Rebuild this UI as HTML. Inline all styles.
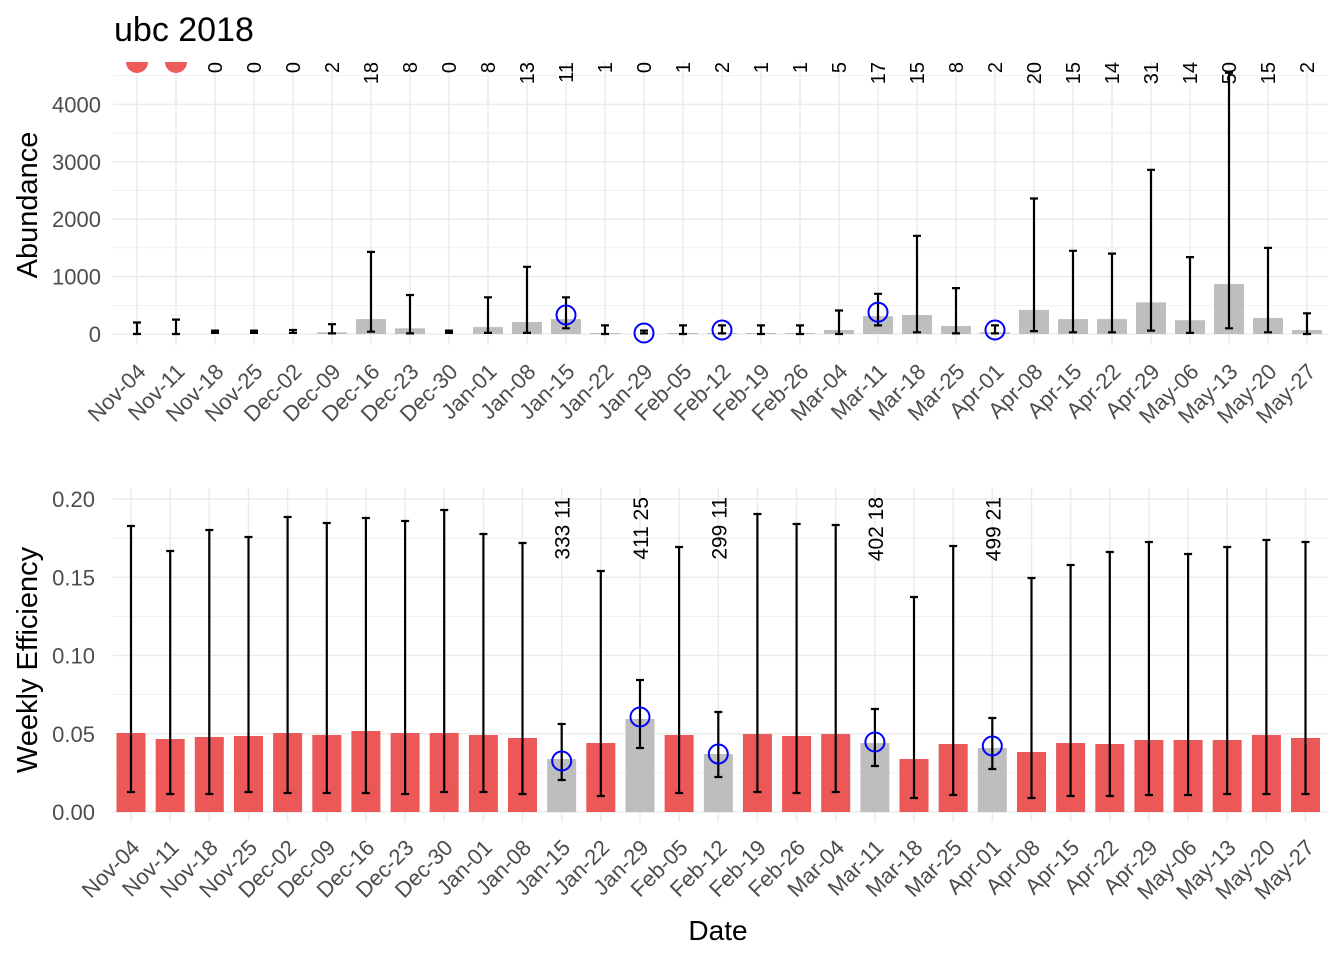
<!DOCTYPE html>
<html><head><meta charset="utf-8"><style>body{margin:0;background:#fff}svg{display:block}text{font-family:"Liberation Sans",sans-serif}</style></head><body>
<svg width="1344" height="960" viewBox="0 0 1344 960" xmlns="http://www.w3.org/2000/svg">
<text x="114" y="41" font-size="34" fill="#000">ubc 2018</text>
<g stroke="#ebebeb" fill="none">
<g stroke-width="0.7"><path d="M113 305.3H1328M113 247.9H1328M113 190.5H1328M113 133.1H1328M113 75.7H1328"/></g>
<g stroke-width="1.5"><path d="M113 334H1328M113 276.6H1328M113 219.2H1328M113 161.8H1328M113 104.4H1328"/>
<path d="M137 62V345M176 62V345M215 62V345M254 62V345M293 62V345M332 62V345M371 62V345M410 62V345M449 62V345M488 62V345M527 62V345M566 62V345M605 62V345M644 62V345M683 62V345M722 62V345M761 62V345M800 62V345M839 62V345M878 62V345M917 62V345M956 62V345M995 62V345M1034 62V345M1073 62V345M1112 62V345M1151 62V345M1190 62V345M1229 62V345M1268 62V345M1307 62V345"/></g>
</g>
<g font-size="22" fill="#4d4d4d" text-anchor="end">
<text x="101" y="342">0</text><text x="101" y="284.6">1000</text><text x="101" y="227.2">2000</text><text x="101" y="169.8">3000</text><text x="101" y="112.4">4000</text>
</g>
<text transform="translate(37,205) rotate(-90)" font-size="29" text-anchor="middle">Abundance</text>
<g fill="#bebebe">
<rect x="317" y="332.3" width="30" height="1.7"/><rect x="356" y="319.1" width="30" height="14.9"/><rect x="395" y="328.3" width="30" height="5.7"/>
<rect x="473" y="327.1" width="30" height="6.9"/><rect x="512" y="322" width="30" height="12"/><rect x="551" y="319.1" width="30" height="14.9"/>
<rect x="590" y="333" width="30" height="1"/><rect x="668" y="333" width="30" height="1"/><rect x="707" y="333" width="30" height="1"/><rect x="746" y="333" width="30" height="1"/><rect x="785" y="333" width="30" height="1"/>
<rect x="824" y="330" width="30" height="4"/><rect x="863" y="316.2" width="30" height="17.8"/><rect x="902" y="315" width="30" height="19"/><rect x="941" y="326" width="30" height="8"/><rect x="980" y="332.3" width="30" height="1.7"/>
<rect x="1019" y="309.9" width="30" height="24.1"/><rect x="1058" y="319.1" width="30" height="14.9"/><rect x="1097" y="319.1" width="30" height="14.9"/><rect x="1136" y="302.4" width="30" height="31.6"/><rect x="1175" y="320.2" width="30" height="13.8"/><rect x="1214" y="284.1" width="30" height="49.9"/><rect x="1253" y="317.9" width="30" height="16.1"/><rect x="1292" y="330" width="30" height="4"/>
</g>
<g stroke="#000" stroke-width="2.2" fill="none">
<path d="M133 322.5H141M137 322.5V334M133 334H141"/>
<path d="M172 319.6H180M176 319.6V334M172 334H180"/>
<path d="M211 330.6H219M215 330.6V332.9M211 332.9H219"/>
<path d="M250 330.6H258M254 330.6V332.9M250 332.9H258"/>
<path d="M289 330H297M293 330V332.9M289 332.9H297"/>
<path d="M328 324.2H336M332 324.2V333.4M328 333.4H336"/>
<path d="M367 251.9H375M371 251.9V331.7M367 331.7H375"/>
<path d="M406 295H414M410 295V333.4M406 333.4H414"/>
<path d="M445 330.6H453M449 330.6V332.9M445 332.9H453"/>
<path d="M484 297.3H492M488 297.3V332.9M484 332.9H492"/>
<path d="M523 266.8H531M527 266.8V332.9M523 332.9H531"/>
<path d="M562 297.3H570M566 297.3V328.3M562 328.3H570"/>
<path d="M601 325.4H609M605 325.4V334M601 334H609"/>
<path d="M640 330.6H648M644 330.6V333.4M640 333.4H648"/>
<path d="M679 325.4H687M683 325.4V334M679 334H687"/>
<path d="M718 325.4H726M722 325.4V333.4M718 333.4H726"/>
<path d="M757 325.4H765M761 325.4V334M757 334H765"/>
<path d="M796 325.4H804M800 325.4V334M796 334H804"/>
<path d="M835 310.5H843M839 310.5V334M835 334H843"/>
<path d="M874 293.8H882M878 293.8V325.4M874 325.4H882"/>
<path d="M913 235.8H921M917 235.8V332.3M913 332.3H921"/>
<path d="M952 288.1H960M956 288.1V333.4M952 333.4H960"/>
<path d="M991 325.4H999M995 325.4V333.4M991 333.4H999"/>
<path d="M1030 198.5H1038M1034 198.5V331.1M1030 331.1H1038"/>
<path d="M1069 250.8H1077M1073 250.8V332.3M1069 332.3H1077"/>
<path d="M1108 253.6H1116M1112 253.6V332.3M1108 332.3H1116"/>
<path d="M1147 169.8H1155M1151 169.8V330.6M1147 330.6H1155"/>
<path d="M1186 257.1H1194M1190 257.1V332.9M1186 332.9H1194"/>
<path d="M1225 72.8H1233M1229 72.8V328.3M1225 328.3H1233"/>
<path d="M1264 247.9H1272M1268 247.9V332.3M1264 332.3H1272"/>
<path d="M1303 313.3H1311M1307 313.3V334M1303 334H1311"/>
</g>
<g stroke="#0000ff" stroke-width="2" fill="none">
<circle cx="566" cy="315" r="9.5"/><circle cx="644" cy="333" r="9.5"/><circle cx="722" cy="330" r="9.5"/><circle cx="878" cy="312.2" r="9.5"/><circle cx="995" cy="330" r="9.5"/>
</g>
<path d="M126 62A11 11 0 0 0 148 62Z M165 62A11 11 0 0 0 187 62Z" fill="#ef5a5a"/>
<g font-size="20" fill="#000" text-anchor="end">
<text transform="translate(222,62) rotate(-90)">0</text>
<text transform="translate(261,62) rotate(-90)">0</text>
<text transform="translate(300,62) rotate(-90)">0</text>
<text transform="translate(339,62) rotate(-90)">2</text>
<text transform="translate(378,62) rotate(-90)">18</text>
<text transform="translate(417,62) rotate(-90)">8</text>
<text transform="translate(456,62) rotate(-90)">0</text>
<text transform="translate(495,62) rotate(-90)">8</text>
<text transform="translate(534,62) rotate(-90)">13</text>
<text transform="translate(573,62) rotate(-90)">11</text>
<text transform="translate(612,62) rotate(-90)">1</text>
<text transform="translate(651,62) rotate(-90)">0</text>
<text transform="translate(690,62) rotate(-90)">1</text>
<text transform="translate(729,62) rotate(-90)">2</text>
<text transform="translate(768,62) rotate(-90)">1</text>
<text transform="translate(807,62) rotate(-90)">1</text>
<text transform="translate(846,62) rotate(-90)">5</text>
<text transform="translate(885,62) rotate(-90)">17</text>
<text transform="translate(924,62) rotate(-90)">15</text>
<text transform="translate(963,62) rotate(-90)">8</text>
<text transform="translate(1002,62) rotate(-90)">2</text>
<text transform="translate(1041,62) rotate(-90)">20</text>
<text transform="translate(1080,62) rotate(-90)">15</text>
<text transform="translate(1119,62) rotate(-90)">14</text>
<text transform="translate(1158,62) rotate(-90)">31</text>
<text transform="translate(1197,62) rotate(-90)">14</text>
<text transform="translate(1236,62) rotate(-90)">50</text>
<text transform="translate(1275,62) rotate(-90)">15</text>
<text transform="translate(1314,62) rotate(-90)">2</text>
</g>
<g font-size="22" fill="#4d4d4d" text-anchor="end">
<text transform="translate(147,373) rotate(-45)">Nov-04</text>
<text transform="translate(186,373) rotate(-45)">Nov-11</text>
<text transform="translate(225,373) rotate(-45)">Nov-18</text>
<text transform="translate(264,373) rotate(-45)">Nov-25</text>
<text transform="translate(303,373) rotate(-45)">Dec-02</text>
<text transform="translate(342,373) rotate(-45)">Dec-09</text>
<text transform="translate(381,373) rotate(-45)">Dec-16</text>
<text transform="translate(420,373) rotate(-45)">Dec-23</text>
<text transform="translate(459,373) rotate(-45)">Dec-30</text>
<text transform="translate(498,373) rotate(-45)">Jan-01</text>
<text transform="translate(537,373) rotate(-45)">Jan-08</text>
<text transform="translate(576,373) rotate(-45)">Jan-15</text>
<text transform="translate(615,373) rotate(-45)">Jan-22</text>
<text transform="translate(654,373) rotate(-45)">Jan-29</text>
<text transform="translate(693,373) rotate(-45)">Feb-05</text>
<text transform="translate(732,373) rotate(-45)">Feb-12</text>
<text transform="translate(771,373) rotate(-45)">Feb-19</text>
<text transform="translate(810,373) rotate(-45)">Feb-26</text>
<text transform="translate(849,373) rotate(-45)">Mar-04</text>
<text transform="translate(888,373) rotate(-45)">Mar-11</text>
<text transform="translate(927,373) rotate(-45)">Mar-18</text>
<text transform="translate(966,373) rotate(-45)">Mar-25</text>
<text transform="translate(1005,373) rotate(-45)">Apr-01</text>
<text transform="translate(1044,373) rotate(-45)">Apr-08</text>
<text transform="translate(1083,373) rotate(-45)">Apr-15</text>
<text transform="translate(1122,373) rotate(-45)">Apr-22</text>
<text transform="translate(1161,373) rotate(-45)">Apr-29</text>
<text transform="translate(1200,373) rotate(-45)">May-06</text>
<text transform="translate(1239,373) rotate(-45)">May-13</text>
<text transform="translate(1278,373) rotate(-45)">May-20</text>
<text transform="translate(1317,373) rotate(-45)">May-27</text>
</g>

<g stroke="#ebebeb" fill="none">
<g stroke-width="0.7"><path d="M113 772.9H1328M113 694.6H1328M113 616.4H1328M113 538.1H1328"/></g>
<g stroke-width="1.5"><path d="M113 812H1328M113 733.75H1328M113 655.5H1328M113 577.25H1328M113 499H1328"/>
<path d="M131 488V822M170.2 488V822M209.3 488V822M248.5 488V822M287.6 488V822M326.8 488V822M365.9 488V822M405.1 488V822M444.2 488V822M483.4 488V822M522.5 488V822M561.7 488V822M600.8 488V822M640 488V822M679.1 488V822M718.3 488V822M757.4 488V822M796.6 488V822M835.7 488V822M874.9 488V822M914 488V822M953.2 488V822M992.3 488V822M1031.5 488V822M1070.6 488V822M1109.8 488V822M1148.9 488V822M1188.1 488V822M1227.2 488V822M1266.4 488V822M1305.5 488V822"/></g>
</g>
<g font-size="22" fill="#4d4d4d" text-anchor="end">
<text x="95" y="820">0.00</text><text x="95" y="741.75">0.05</text><text x="95" y="663.5">0.10</text><text x="95" y="585.25">0.15</text><text x="95" y="507">0.20</text>
</g>
<text transform="translate(37,660) rotate(-90)" font-size="29" text-anchor="middle">Weekly Efficiency</text>
<g fill="#ec5858">
<rect x="116.5" y="733" width="29" height="79"/>
<rect x="155.7" y="739" width="29" height="73"/>
<rect x="194.8" y="737" width="29" height="75"/>
<rect x="234" y="736" width="29" height="76"/>
<rect x="273.1" y="733" width="29" height="79"/>
<rect x="312.3" y="735" width="29" height="77"/>
<rect x="351.4" y="731" width="29" height="81"/>
<rect x="390.6" y="733" width="29" height="79"/>
<rect x="429.7" y="733" width="29" height="79"/>
<rect x="468.9" y="735" width="29" height="77"/>
<rect x="508" y="738" width="29" height="74"/>
<rect x="586.3" y="743" width="29" height="69"/>
<rect x="664.6" y="735" width="29" height="77"/>
<rect x="742.9" y="734" width="29" height="78"/>
<rect x="782.1" y="736" width="29" height="76"/>
<rect x="821.2" y="734" width="29" height="78"/>
<rect x="899.5" y="759" width="29" height="53"/>
<rect x="938.7" y="744" width="29" height="68"/>
<rect x="1017" y="752" width="29" height="60"/>
<rect x="1056.1" y="743" width="29" height="69"/>
<rect x="1095.3" y="744" width="29" height="68"/>
<rect x="1134.4" y="740" width="29" height="72"/>
<rect x="1173.6" y="740" width="29" height="72"/>
<rect x="1212.7" y="740" width="29" height="72"/>
<rect x="1251.9" y="735" width="29" height="77"/>
<rect x="1291" y="738" width="29" height="74"/>
</g>
<g fill="#bebebe">
<rect x="547.2" y="759" width="29" height="53"/>
<rect x="625.5" y="719" width="29" height="93"/>
<rect x="703.8" y="754" width="29" height="58"/>
<rect x="860.4" y="743" width="29" height="69"/>
<rect x="977.8" y="748" width="29" height="64"/>
</g>
<g stroke="#000" stroke-width="2.2" fill="none">
<path d="M127 526H135M131 526V792M127 792H135"/>
<path d="M166.2 551H174.2M170.2 551V794M166.2 794H174.2"/>
<path d="M205.3 530H213.3M209.3 530V794M205.3 794H213.3"/>
<path d="M244.5 537H252.5M248.5 537V792M244.5 792H252.5"/>
<path d="M283.6 517H291.6M287.6 517V793M283.6 793H291.6"/>
<path d="M322.8 523H330.8M326.8 523V793M322.8 793H330.8"/>
<path d="M361.9 518H369.9M365.9 518V793M361.9 793H369.9"/>
<path d="M401.1 521H409.1M405.1 521V794M401.1 794H409.1"/>
<path d="M440.2 510H448.2M444.2 510V792M440.2 792H448.2"/>
<path d="M479.4 534H487.4M483.4 534V792M479.4 792H487.4"/>
<path d="M518.5 543H526.5M522.5 543V794M518.5 794H526.5"/>
<path d="M557.7 724H565.7M561.7 724V780M557.7 780H565.7"/>
<path d="M596.8 571H604.8M600.8 571V796M596.8 796H604.8"/>
<path d="M636 680H644M640 680V748M636 748H644"/>
<path d="M675.1 547H683.1M679.1 547V793M675.1 793H683.1"/>
<path d="M714.3 712H722.3M718.3 712V777M714.3 777H722.3"/>
<path d="M753.4 514H761.4M757.4 514V792M753.4 792H761.4"/>
<path d="M792.6 524H800.6M796.6 524V793M792.6 793H800.6"/>
<path d="M831.7 525H839.7M835.7 525V792M831.7 792H839.7"/>
<path d="M870.9 709H878.9M874.9 709V766M870.9 766H878.9"/>
<path d="M910 597H918M914 597V798M910 798H918"/>
<path d="M949.2 546H957.2M953.2 546V795M949.2 795H957.2"/>
<path d="M988.3 718H996.3M992.3 718V769M988.3 769H996.3"/>
<path d="M1027.5 578H1035.5M1031.5 578V798M1027.5 798H1035.5"/>
<path d="M1066.6 565H1074.6M1070.6 565V796M1066.6 796H1074.6"/>
<path d="M1105.8 552H1113.8M1109.8 552V796M1105.8 796H1113.8"/>
<path d="M1144.9 542H1152.9M1148.9 542V795M1144.9 795H1152.9"/>
<path d="M1184.1 554H1192.1M1188.1 554V795M1184.1 795H1192.1"/>
<path d="M1223.2 547H1231.2M1227.2 547V794M1223.2 794H1231.2"/>
<path d="M1262.4 540H1270.4M1266.4 540V794M1262.4 794H1270.4"/>
<path d="M1301.5 542H1309.5M1305.5 542V794M1301.5 794H1309.5"/>
</g>
<g stroke="#0000ff" stroke-width="2" fill="none">
<circle cx="561.7" cy="761" r="9.5"/><circle cx="640" cy="717" r="9.5"/><circle cx="718.3" cy="754" r="9.5"/><circle cx="874.9" cy="742" r="9.5"/><circle cx="992.3" cy="746" r="9.5"/>
</g>
<g font-size="21" fill="#000" text-anchor="end">
<text transform="translate(569.7,497) rotate(-90)">333 11</text>
<text transform="translate(648,497) rotate(-90)">411 25</text>
<text transform="translate(726.3,497) rotate(-90)">299 11</text>
<text transform="translate(882.9,497) rotate(-90)">402 18</text>
<text transform="translate(1000.3,497) rotate(-90)">499 21</text>
</g>
<g font-size="22" fill="#4d4d4d" text-anchor="end">
<text transform="translate(141,849) rotate(-45)">Nov-04</text>
<text transform="translate(180.2,849) rotate(-45)">Nov-11</text>
<text transform="translate(219.3,849) rotate(-45)">Nov-18</text>
<text transform="translate(258.5,849) rotate(-45)">Nov-25</text>
<text transform="translate(297.6,849) rotate(-45)">Dec-02</text>
<text transform="translate(336.8,849) rotate(-45)">Dec-09</text>
<text transform="translate(375.9,849) rotate(-45)">Dec-16</text>
<text transform="translate(415.1,849) rotate(-45)">Dec-23</text>
<text transform="translate(454.2,849) rotate(-45)">Dec-30</text>
<text transform="translate(493.4,849) rotate(-45)">Jan-01</text>
<text transform="translate(532.5,849) rotate(-45)">Jan-08</text>
<text transform="translate(571.7,849) rotate(-45)">Jan-15</text>
<text transform="translate(610.8,849) rotate(-45)">Jan-22</text>
<text transform="translate(650,849) rotate(-45)">Jan-29</text>
<text transform="translate(689.1,849) rotate(-45)">Feb-05</text>
<text transform="translate(728.3,849) rotate(-45)">Feb-12</text>
<text transform="translate(767.4,849) rotate(-45)">Feb-19</text>
<text transform="translate(806.6,849) rotate(-45)">Feb-26</text>
<text transform="translate(845.7,849) rotate(-45)">Mar-04</text>
<text transform="translate(884.9,849) rotate(-45)">Mar-11</text>
<text transform="translate(924,849) rotate(-45)">Mar-18</text>
<text transform="translate(963.2,849) rotate(-45)">Mar-25</text>
<text transform="translate(1002.3,849) rotate(-45)">Apr-01</text>
<text transform="translate(1041.5,849) rotate(-45)">Apr-08</text>
<text transform="translate(1080.6,849) rotate(-45)">Apr-15</text>
<text transform="translate(1119.8,849) rotate(-45)">Apr-22</text>
<text transform="translate(1158.9,849) rotate(-45)">Apr-29</text>
<text transform="translate(1198.1,849) rotate(-45)">May-06</text>
<text transform="translate(1237.2,849) rotate(-45)">May-13</text>
<text transform="translate(1276.4,849) rotate(-45)">May-20</text>
<text transform="translate(1315.5,849) rotate(-45)">May-27</text>
</g>
<text x="718" y="940" font-size="28" text-anchor="middle">Date</text>
</svg>
</body></html>
